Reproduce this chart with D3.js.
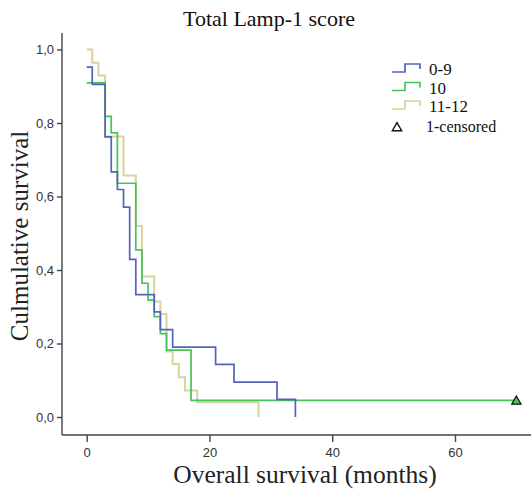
<!DOCTYPE html>
<html>
<head>
<meta charset="utf-8">
<script src="https://cdn.jsdelivr.net/npm/d3@7"></script>
<style>
body{margin:0;background:#fff;}
</style>
</head>
<body>
<svg id="km" width="531" height="489"></svg>
<script>
// survival steps: [months, cumulative survival]
var grp09 = [[0,0.952],[0.9,0.905],[3,0.762],[4,0.667],[5,0.619],[6,0.571],[7,0.429],[8,0.333],
	[11,0.286],[12,0.238],[14,0.190],[21,0.143],[24,0.095],[31,0.048],[34,0]];
var grp10 = [[0,0.909],[3,0.818],[4,0.773],[5,0.636],[8,0.455],[9,0.364],[10,0.318],[11,0.273],
	[12,0.227],[13,0.182],[17,0.045],[70,0.045]];
var grp1112 = [[0,1.0],[0.9,0.964],[1.9,0.929],[3,0.763],[6,0.657],[8,0.52],[9,0.382],[11,0.314],
	[12,0.28],[13,0.178],[14,0.144],[15,0.108],[16,0.072],[18,0.04],[28,0]];
var censored = [[70,0.045]];
var groups = ["0-9","10","11-12"];
var colors = ["#5064bd","#45c45a","#d9d39c"];
var xTicks = [0,20,40,60];
var yTicks = [0,0.2,0.4,0.6,0.8,1.0];

window.addEventListener("load", makeKM);

function makeKM(){
	var svg = d3.select("#km");
	var x = d3.scaleLinear().domain([0,60]).range([86.7,455]);
	var y = d3.scaleLinear().domain([0,1]).range([417,49.5]);

	// axes
	var yAx = svg.append("g").attr("transform","translate(62,0)")
	.call(d3.axisLeft(y).tickValues(yTicks).tickSize(5).tickSizeOuter(0)
		.tickFormat(d=>d3.format(".1f")(d).replace(".",",")));
	yAx.select(".domain").attr("d","M0,33V435");
	var xAx = svg.append("g").attr("transform","translate(0,435)")
	.call(d3.axisBottom(x).tickValues(xTicks).tickSize(7).tickSizeOuter(0));
	xAx.select(".domain").attr("d","M62,0H531");
	svg.selectAll(".domain,.tick line").attr("stroke","#444").attr("stroke-width",1.4);
	svg.selectAll(".tick text").attr("font-family","Liberation Sans, Arial, sans-serif")
	.attr("font-size",13).attr("fill","#333");
	xAx.selectAll(".tick text").attr("dy","0.95em");

	// step curves
	var line = d3.line().curve(d3.curveStepAfter).x(d=>x(d[0])).y(d=>y(d[1]));
	var data = [grp1112, grp10, grp09];
	var cols = [colors[2], colors[1], colors[0]];
	svg.selectAll("path.km").data(data).enter()
	.append("path").attr("class","km")
	.attr("d",d=>line(d))
	.attr("fill","none")
	.attr("stroke",(d,i)=>cols[i])
	.attr("stroke-width",(d,i)=>i==0?2:1.7);

	var tri = d3.symbol().type(d3.symbolTriangle).size(38);
	svg.selectAll("path.cens").data(censored).enter()
	.append("path").attr("class","cens")
	.attr("d",tri)
	.attr("transform",d=>"translate("+x(d[0])+","+(y(d[1])+1)+")")
	.attr("fill",colors[1]).attr("stroke","#111").attr("stroke-width",1.2);

	// legend
	var leg = svg.append("g");
	groups.forEach(function(g,i){
		var yy = 72 + i*18.5;
		leg.append("path")
		.attr("d","M392,"+yy+"H405V"+(yy-8)+"H420V"+(yy-3))
		.attr("fill","none").attr("stroke",colors[i]).attr("stroke-width",1.7);
		leg.append("text").attr("x",429).attr("y",yy+3).text(g)
		.attr("font-family","Liberation Serif, Times New Roman, serif")
		.attr("font-size",17).attr("fill","#111");
	});
	leg.append("path").attr("d",tri)
	.attr("transform","translate(397,128)")
	.attr("fill","#fff").attr("stroke","#111").attr("stroke-width",1.4);
	leg.append("text").attr("x",426).attr("y",132).text("1-censored")
	.attr("font-family","Liberation Serif, Times New Roman, serif")
	.attr("font-size",16).attr("fill","#111");

	// titles
	svg.append("text").attr("x",269).attr("y",26).attr("text-anchor","middle")
	.text("Total Lamp-1 score")
	.attr("font-family","Liberation Serif, Times New Roman, serif")
	.attr("font-size",22).attr("fill","#111");
	svg.append("text").attr("x",305).attr("y",483).attr("text-anchor","middle")
	.text("Overall survival (months)")
	.attr("font-family","Liberation Serif, Times New Roman, serif")
	.attr("font-size",25.5).attr("fill","#222");
	svg.append("text").attr("transform","translate(28,236) rotate(-90)")
	.attr("text-anchor","middle")
	.text("Culmulative survival")
	.attr("font-family","Liberation Serif, Times New Roman, serif")
	.attr("font-size",25).attr("fill","#222");
}
</script>
</body>
</html>
